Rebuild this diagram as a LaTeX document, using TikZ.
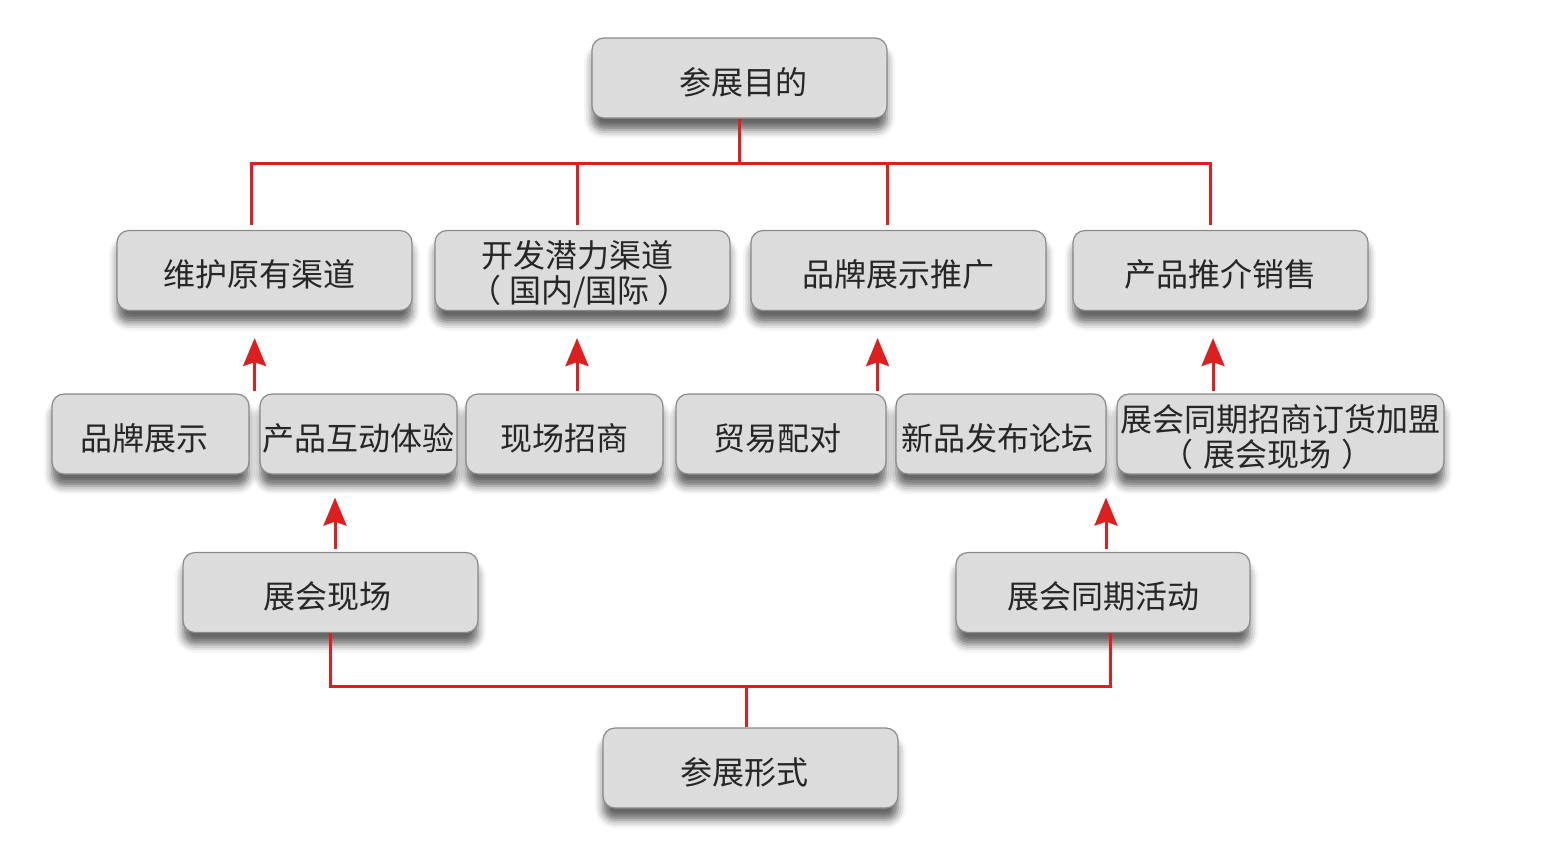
\documentclass[tikz,border=0pt]{standalone}
\usepackage{fontspec}
\setmainfont{Noto Sans CJK SC}
\usetikzlibrary{shadows.blur,arrows.meta,calc}
\definecolor{boxfill}{HTML}{DCDCDC}
\definecolor{boxline}{HTML}{8A8A8A}
\definecolor{linered}{HTML}{DE1F1F}
\begin{document}
\begin{tikzpicture}[x=0.5pt,y=-0.5pt,
  box/.style={draw=boxline, line width=0.6pt, fill=boxfill, rounded corners=6pt,
    minimum height=40pt, align=center, inner sep=0pt, text=black!85,
    font=\fontsize{16}{17.5}\selectfont,
    execute at begin node={\rule{0pt}{17.5pt}},
    blur shadow={shadow xshift=0pt, shadow yshift=-6pt, shadow blur radius=4pt, shadow opacity=60}},
  conn/.style={draw=linered, line width=1.5pt},
  arr/.style={conn, -{Stealth[length=14pt,width=11.5pt,inset=2pt]}}]
\useasboundingbox (0,0) rectangle (1552,848);
% boxes
\node[box, minimum width=147.5pt] (goal) at (739.5,78) {\hspace*{4pt}参展目的};
\node[box, minimum width=147.5pt] (c1) at (264.5,270.5) {维护原有渠道\hspace*{5pt}};
\node[box, minimum width=147.5pt, execute at begin node={\rule{0pt}{35pt}}] (c2) at (582.5,270.5) {开发潜力渠道\hspace*{5pt}\\（\hspace{4pt}国内/国际\hspace{4pt}）\hspace*{3pt}};
\node[box, minimum width=147.5pt] (c3) at (898.5,270.5) {品牌展示推广};
\node[box, minimum width=147.5pt] (c4) at (1220.5,270.5) {产品推介销售};
\node[box, minimum width=98.5pt] (r1) at (150.5,434) {品牌展示\hspace*{6pt}};
\node[box, minimum width=98.5pt] (r2) at (358.5,434) {产品互动体验};
\node[box, minimum width=98.5pt] (r3) at (564.5,434) {现场招商};
\node[box, minimum width=105pt] (r4) at (781,434) {贸易配对\hspace*{4pt}};
\node[box, minimum width=105pt] (r5) at (1001,434) {新品发布论坛\hspace*{4pt}};
\node[box, minimum width=163.5pt, execute at begin node={\rule{0pt}{34pt}}] (r6) at (1280.5,434) {展会同期招商订货加盟\\（\hspace{5pt}展会现场\hspace{5pt}）\hspace*{13pt}};
\node[box, minimum width=147.5pt] (f1) at (330.5,592.5) {展会现场\hspace*{3pt}};
\node[box, minimum width=147pt] (f2) at (1103,592.5) {展会同期活动};
\node[box, minimum width=147.5pt] (form) at (750.5,768) {参展形式\hspace*{6pt}};
% top tree
\coordinate (tbar) at (739.5,163);
\coordinate (d1) at (251,225);
\coordinate (d2) at (577,225);
\coordinate (d3) at (887,225);
\coordinate (d4) at (1210,225);
\draw[conn] (goal.south) -- (tbar);
\draw[conn] (d1) |- (tbar) -| (d4);
\draw[conn] (d2) -- (d2 |- tbar);
\draw[conn] (d3) -- (d3 |- tbar);
% arrows row3 -> row2
\coordinate (s1) at ([xshift=2.5pt,yshift=1pt]r1.north east);
\coordinate (s2) at ([xshift=6.25pt,yshift=1pt]r3.north);
\coordinate (s3) at ([xshift=-4.5pt,yshift=1pt]r4.north east);
\coordinate (s4) at ([xshift=-3.75pt,yshift=1pt]r6.north -| c4.south);
\draw[arr, shorten >=13.5pt] (s1) -- (s1 |- c1.south);
\draw[arr, shorten >=13.5pt] (s2) -- (s2 |- c2.south);
\draw[arr, shorten >=13.5pt] (s3) -- (s3 |- c3.south);
\draw[arr, shorten >=13.5pt] (s4) -- (s4 |- c4.south);
% arrows row4 -> row3
\coordinate (s5) at ([xshift=2.25pt,yshift=1.5pt]f1.north);
\coordinate (s6) at ([xshift=1.5pt,yshift=1.5pt]f2.north);
\draw[arr, shorten >=11.5pt] (s5) -- (s5 |- r2.south);
\draw[arr, shorten >=11.5pt] (s6) -- (s6 |- r5.south);
% bottom tree
\coordinate (bbar) at (746,686);
\draw[conn] (f1.south) |- (bbar) -| ([xshift=3.5pt]f2.south);
\draw[conn] (bbar) -- (bbar |- form.north);
\end{tikzpicture}
\end{document}
